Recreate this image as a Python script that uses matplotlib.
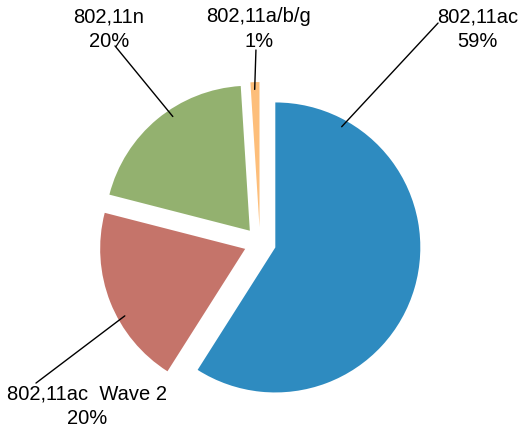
import numpy as np
import matplotlib
matplotlib.use("Agg")
import matplotlib.pyplot as plt

# values in percent, clockwise from 12 o'clock
standards = ['802,11ac', '802,11ac  Wave 2', '802,11n', '802,11a/b/g']
shares = [59, 20, 20, 1]
colors = ['#2E8BC0', '#C5746A', '#93B16F', '#FDBE7A']

# layout of the callouts (data coords, pie radius = 1)
anchor_angle = [28.8, 240.9, 326.0, 358.0]   # clockwise from top, where the leader starts
line_end = [(1.228, 1.517), (-1.545, -0.966), (-1.0, 1.359), (-0.028, 1.331)]
text_pos = [(1.503, 1.475), (-1.193, -1.124), (-1.041, 1.475), (-0.007, 1.475)]

explode = 0.11

plt.rcParams['font.family'] = ['Liberation Sans', 'DejaVu Sans']

fig = plt.figure(figsize=(5.26, 4.3), dpi=100)
ax = fig.add_axes([0, 0, 1, 1])

wedges, _ = ax.pie(shares, colors=colors, startangle=90, counterclock=False,
                   explode=[explode] * len(shares), radius=1.0,
                   wedgeprops=dict(linewidth=0))

for i, w in enumerate(wedges):
    # shifted wedge apex
    cx, cy = w.center
    a = np.deg2rad(anchor_angle[i])
    xy = (cx + 0.95 * np.sin(a), cy + 0.95 * np.cos(a))
    ax.annotate('', xy=xy, xytext=line_end[i],
                arrowprops=dict(arrowstyle='-', color='black', lw=1,
                                shrinkA=0, shrinkB=0))
    ax.text(text_pos[i][0], text_pos[i][1],
            '%s\n%d%%' % (standards[i], shares[i]),
            ha='center', va='center', fontsize=14.5, linespacing=1.35)

ax.set_xlim(-260 / 145, 266 / 145)
ax.set_ylim(-187 / 145, 243 / 145)
ax.set_aspect('equal', adjustable='box')
ax.axis('off')

fig.savefig('out.png', dpi=100)
